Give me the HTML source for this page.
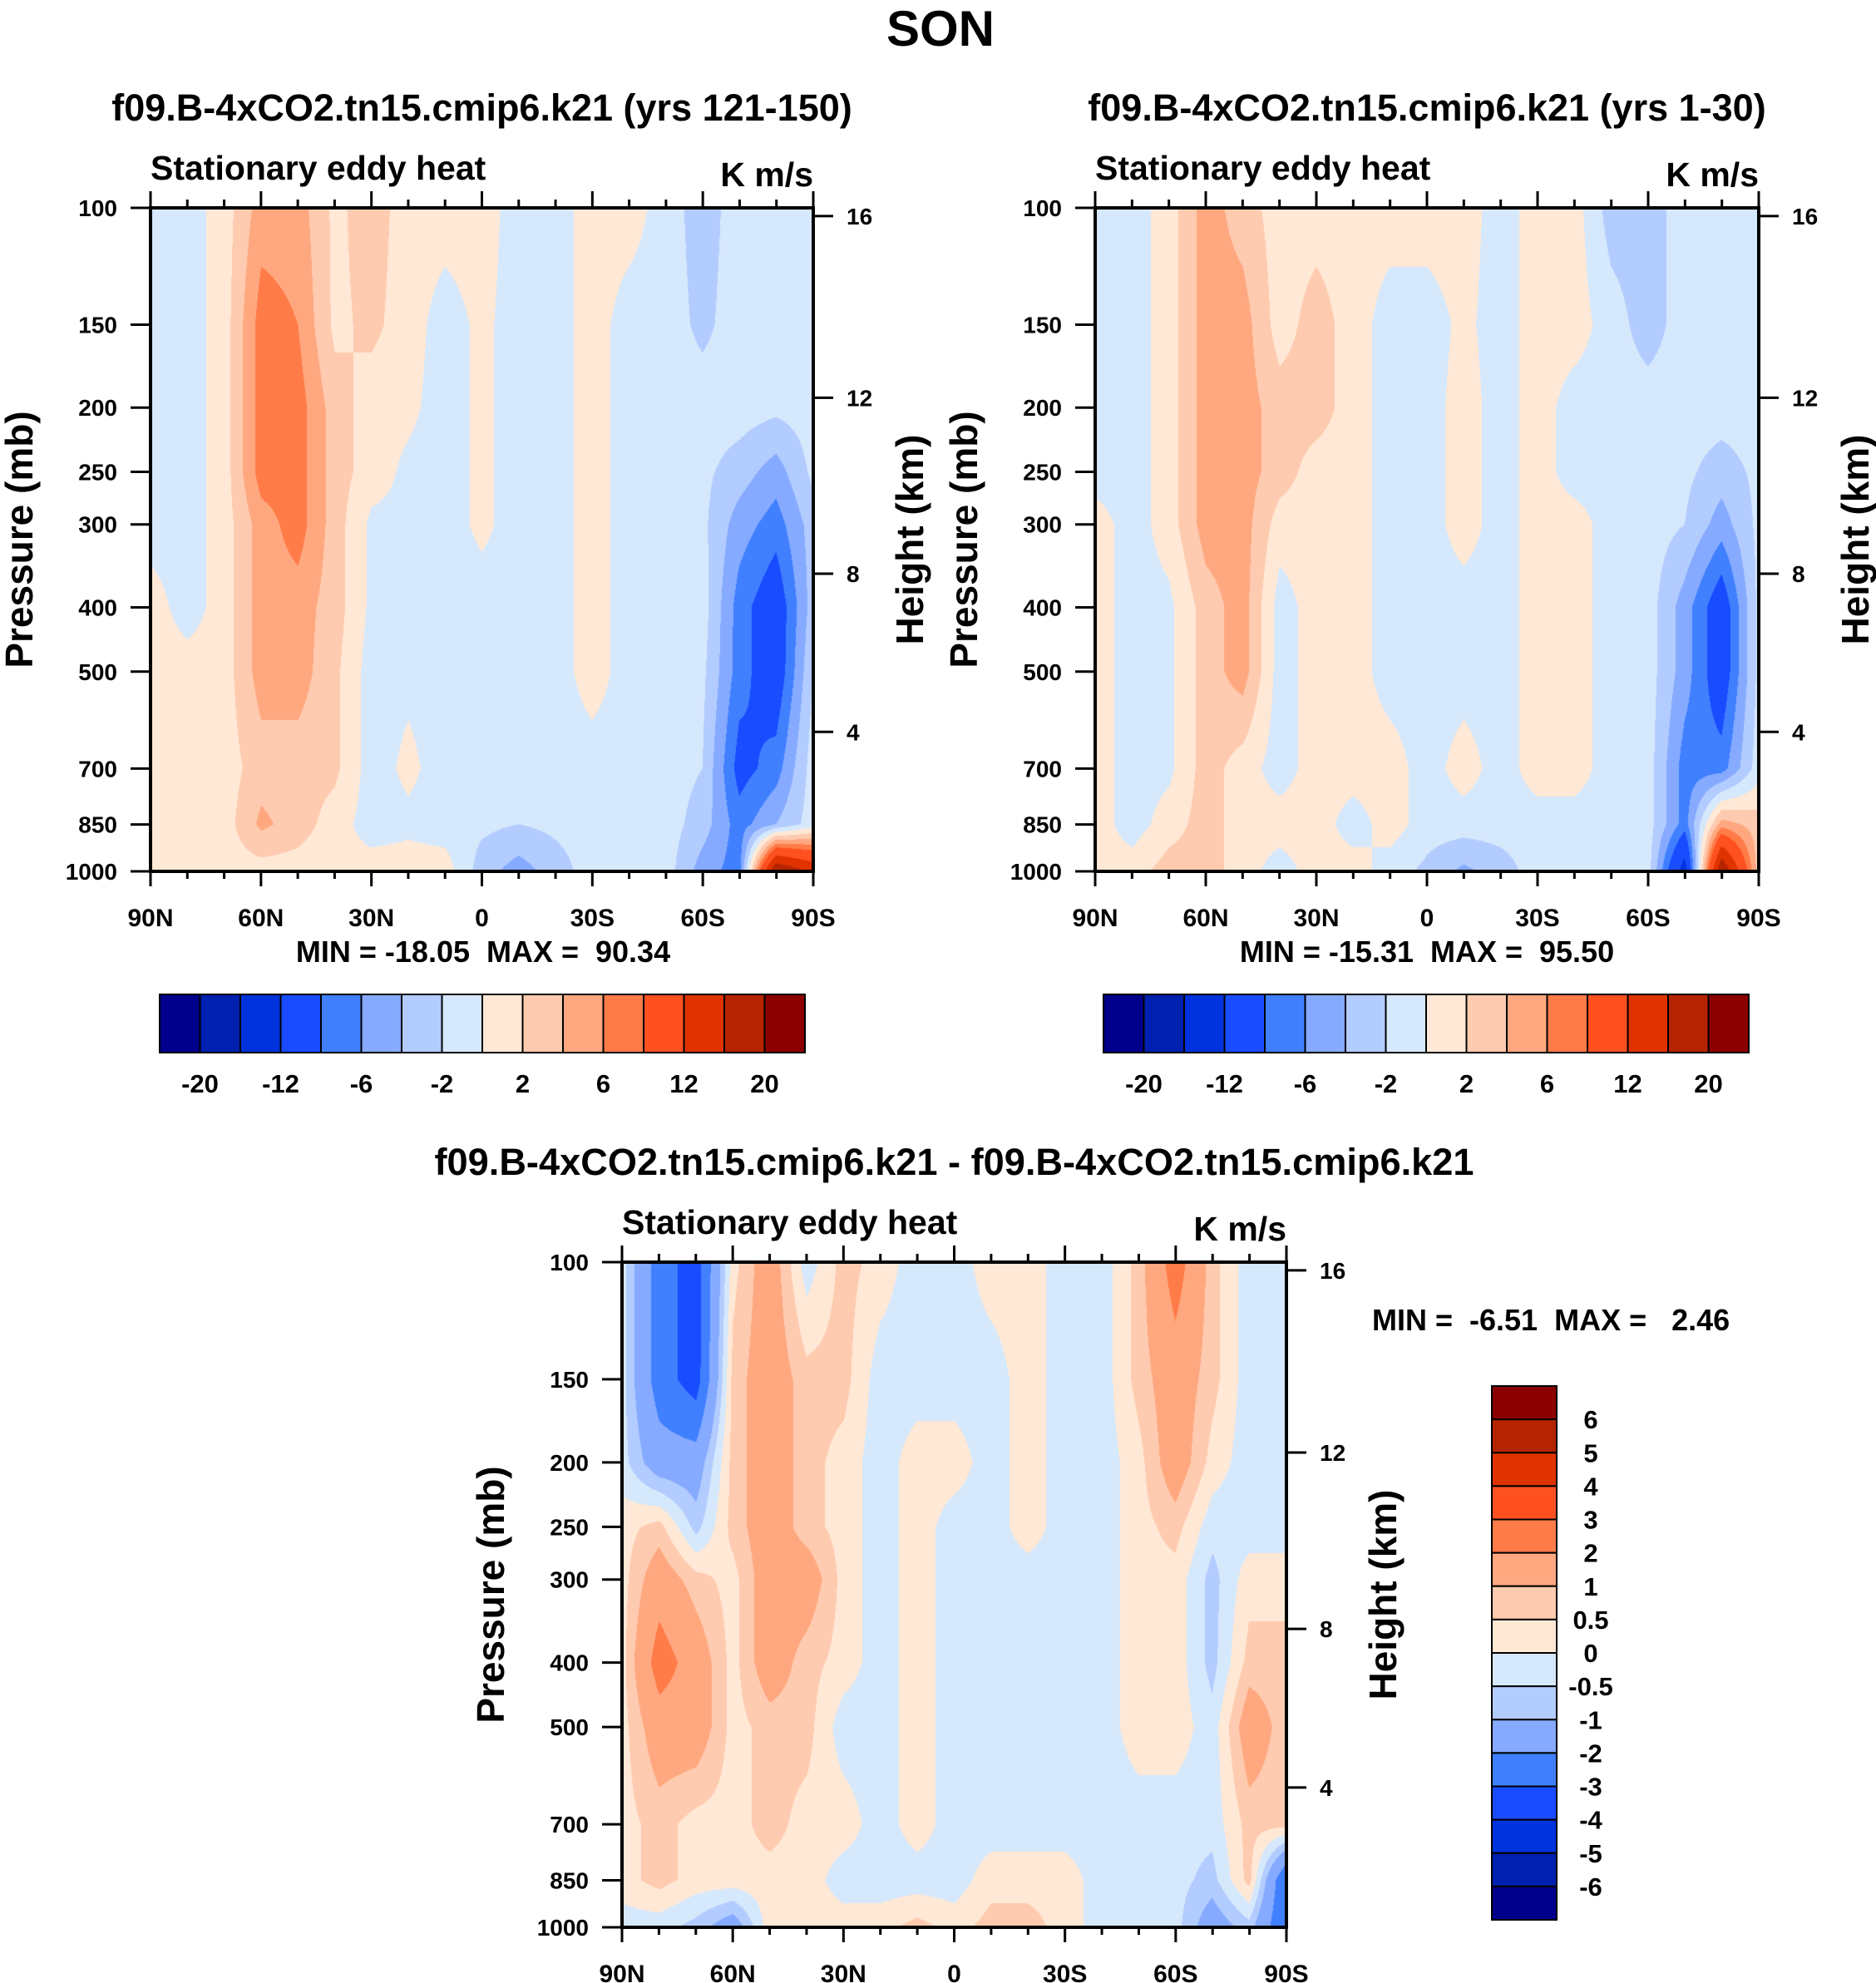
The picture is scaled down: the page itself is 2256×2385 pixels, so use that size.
<!DOCTYPE html>
<html><head><meta charset="utf-8"><title>SON Stationary eddy heat</title>
<style>
html,body{margin:0;padding:0;background:#fff;}
#root{position:relative;width:2256px;height:2385px;overflow:hidden;background:#fff;}
canvas{position:absolute;}
svg{position:absolute;left:0;top:0;}
text{font-family:"Liberation Sans",sans-serif;font-weight:bold;fill:#000;white-space:pre;}
</style></head>
<body>
<div id="root">
<canvas id="c1"></canvas>
<canvas id="c2"></canvas>
<canvas id="c3"></canvas>
<svg id="ov" width="2256" height="2385"></svg>
</div>
<script>
// ---- data ----
const latLabels = ["90N","60N","30N","0","30S","60S","90S"];
const latCols = [90,80,70,60,50,40,30,20,10,0,-10,-20,-30,-40,-50,-60,-70,-80,-90];
const pLevels = [100,150,200,250,300,400,500,700,850,1000];
const pTickLabels = [100,150,200,250,300,400,500,700,850,1000];
const zTickLabels = [4,8,12,16];
const mainLevels = [-20,-16,-12,-8,-6,-4,-2,0,2,4,6,8,12,16,20];
const mainLabelVals = ["-20","-12","-6","-2","2","6","12","20"];
const diffLevels = [-6,-5,-4,-3,-2,-1,-0.5,0,0.5,1,2,3,4,5,6];
const diffLabelVals = ["-6","-5","-4","-3","-2","-1","-0.5","0","0.5","1","2","3","4","5","6"];
const palette = ["#00008a","#0020b0","#0033dd","#1a4cff","#4080ff","#85aaff","#b3ccff","#d6e8fc",
                 "#ffe9d6","#ffcbb0","#ffa880","#ff7b48","#ff5020","#e03300","#b52400","#8a0000"];
// rows = pressure levels (100..1000), cols = 90N..90S
const panel1Values = [
 [-1,-1, 1, 5, 5, 1.5, 3, 1, 1, 1,-1,-1, 1, 1,-1,-3,-1,-1,-1],
 [-1,-1, 1, 7, 6, 1.5, 2.5, 1,-1, 0.5,-1,-1, 1,-1,-1,-2.5,-1,-1,-1],
 [-1,-1, 1, 7, 7, 3, 1, 0.5,-1, 0.5,-1,-1, 1,-1,-1,-1,-1,-1.5,-1],
 [-1,-1, 1, 7, 7, 3, 1,-0.5,-1, 0.5,-1,-1, 1,-1,-1,-1.5,-3,-5,-1.5],
 [-1,-1, 1, 5, 7, 3,-0.5,-0.5,-1, 0.5,-1,-1, 1,-1,-1,-1.5,-5,-7,-3],
 [ 1,-1, 1, 5, 5, 3,-0.5,-0.5,-1,-1,-1,-1, 1,-1,-1,-1,-7,-10,-3],
 [ 1, 1, 1, 5, 5, 2.5,-1,-0.5,-1,-1,-1,-1, 1,-1,-1,-1.5,-7,-10,-2],
 [ 1, 1, 1, 3, 3, 2.5,-1, 0.5,-1,-1,-1,-1,-1,-1,-1,-2,-9,-7,-1],
 [ 1, 1, 1, 4.5, 3, 1,-1,-0.5,-1,-1.5,-2,-1.5,-1,-1,-1,-3,-7,-4,-1],
 [ 1, 1, 1, 1, 1, 0.5, 1, 1, 1,-3,-5,-3,-1,-1,-1,-5,-7,20,15]
];
const panel2Values = [
 [-1,-1, 1, 5, 3, 1, 1, 1, 1, 1, 1,-1, 1, 1,-3,-3,-1,-1,-1],
 [-1,-1, 1, 5, 5, 1, 3, 1,-1,-1, 0.5,-1, 1, 1,-1,-3,-1,-1,-1],
 [-1,-1, 1, 5, 5, 3, 3, 1,-1,-1, 1,-1, 1,-1,-1,-1,-1,-1,-1],
 [-1,-1, 1, 5, 5, 3, 1, 1,-1,-1, 1,-1, 1,-1,-1,-1,-1.5,-3,-1.5],
 [ 1,-1, 1, 5, 5, 1, 1, 1,-1,-1, 1,-1, 1, 1,-1,-1,-2,-5,-1.5],
 [ 1,-1,-0.5, 3, 5,-1, 1, 1,-1,-1,-1,-1, 1, 1,-1,-1,-5,-10,-1.5],
 [ 1,-1,-0.5, 3, 5,-1, 1, 1,-1,-1,-1,-1, 1, 1,-1,-1,-5,-10,-1.5],
 [ 1,-1,-0.5, 3, 1,-1, 1, 1, 1,-1, 1,-1, 1, 1,-1,-1,-7,-7,-1],
 [ 1,-1, 1, 3, 1, 1, 1,-1, 1,-1,-1,-1,-1,-1,-1,-1,-7, 5, 3],
 [ 1, 1, 3, 3, 1,-1, 1, 1,-1,-2.5,-4.5,-3,-1,-1,-1,-1,-14,20, 3]
];
const panel3Values = [
 [-0.3,-2.5,-3.5, 0.3, 1.5,-0.3, 0.7, 0.3,-0.3,-0.3, 0.3, 0.3,-0.3,-0.3, 0.7, 2.5, 0.7,-0.3,-0.3],
 [-0.3,-2.5,-3.5, 0.7, 1.5, 0.7, 0.7,-0.3,-0.3,-0.3,-0.3, 0.3,-0.3,-0.3, 0.7, 1.5, 0.7,-0.3,-0.3],
 [-0.3,-1.5,-1.5, 0.7, 1.5, 0.7, 0.3,-0.3, 0.3, 0.3,-0.3, 0.3,-0.3,-0.3, 0.3, 1.5, 0.3,-0.3,-0.3],
 [ 0.3, 0.7,-0.7, 0.7, 1.5, 0.7, 0.3,-0.3, 0.3,-0.3,-0.3, 0.3,-0.3,-0.3, 0.3, 0.7,-0.3,-0.3,-0.3],
 [ 0.3, 1.5, 0.7, 0.3, 1.5, 1.5, 0.3,-0.3, 0.3,-0.3,-0.3,-0.3,-0.3,-0.3, 0.3, 0.3,-0.7, 0.3, 0.3],
 [ 0.3, 2.5, 1.5, 0.3, 1.5, 0.7, 0.3,-0.3, 0.3,-0.3,-0.3,-0.3,-0.3,-0.3, 0.3, 0.3,-0.7, 0.7, 0.7],
 [ 0.3, 1.5, 1.5, 0.3, 0.7, 0.7,-0.3,-0.3, 0.3,-0.3,-0.3,-0.3,-0.3,-0.3, 0.3, 0.3,-0.3, 1.5, 0.7],
 [ 0.3, 0.7, 0.3, 0.3, 0.7, 0.3, 0.3,-0.3, 0.3,-0.3,-0.3,-0.3,-0.3,-0.3,-0.3,-0.3,-0.3, 0.7, 0.7],
 [ 0.3, 0.7, 0.3, 0.3, 0.3, 0.3,-0.3,-0.3,-0.3,-0.3, 0.3, 0.3, 0.3,-0.3,-0.3,-0.3,-0.7, 0.7,-3],
 [-0.3,-0.3,-0.7,-1.5, 0.3, 0.3, 0.3, 0.3, 0.7, 0.3, 0.7, 0.7, 0.3,-0.3,-0.3,-0.3,-1.5,-0.7,-3]
];

const NS="http://www.w3.org/2000/svg";
const ov=document.getElementById('ov');
function el(tag,attrs,parent){const e=document.createElementNS(NS,tag);for(const k in attrs)e.setAttribute(k,attrs[k]);(parent||ov).appendChild(e);return e;}
function txt(s,x,y,size,anchor,name,extra){const t=el('text',Object.assign({x:x,y:y,'font-size':size,'text-anchor':anchor||'start'},extra||{}));t.textContent=s;


return t;}

function bandIndex(v,lv){let i=0;while(i<lv.length&&v>=lv[i])i++;return i;}
function hex(c){return [parseInt(c.slice(1,3),16),parseInt(c.slice(3,5),16),parseInt(c.slice(5,7),16)];}
const palRGB=palette.map(hex);

function drawField(id,P,vals,lv){
  const cv=document.getElementById(id);
  const W=P.x1-P.x0,H=P.y1-P.y0;
  cv.width=W;cv.height=H;cv.style.left=P.x0+'px';cv.style.top=P.y0+'px';
  const ctx=cv.getContext('2d');const img=ctx.createImageData(W,H);
  const logs=pLevels.map(p=>Math.log10(p));
  const nc=latCols.length;
  for(let py=0;py<H;py++){
    const lp=2+py/(H-1);
    let r=0;while(r<logs.length-2&&lp>logs[r+1])r++;
    const fy=Math.min(1,Math.max(0,(lp-logs[r])/(logs[r+1]-logs[r])));
    for(let px=0;px<W;px++){
      const lat=90-180*px/(W-1);
      const cx=(90-lat)/180*(nc-1);
      let c=Math.min(nc-2,Math.floor(cx));const fx=cx-c;
      const v=(1-fy)*((1-fx)*vals[r][c]+fx*vals[r][c+1])+fy*((1-fx)*vals[r+1][c]+fx*vals[r+1][c+1]);
      const col=palRGB[bandIndex(v,lv)];
      const k=(py*W+px)*4;img.data[k]=col[0];img.data[k+1]=col[1];img.data[k+2]=col[2];img.data[k+3]=255;
    }
  }
  ctx.putImageData(img,0,0);
}
function zToP(z){
  const m=z*1000;
  if(m<=11000) return 1013.25*Math.pow(1-2.25577e-5*m,5.25588);
  return 226.32*Math.exp(-(m-11000)/6341.6);
}
function drawAxes(P,title,narrow){
  const g=el('g',{});
  
  
  const W=P.x1-P.x0,H=P.y1-P.y0;
  const xs=lat=>P.x0+(90-lat)/180*W;
  const ys=p=>P.y0+(Math.log10(p)-2)*H;
  const sty={stroke:'#000','stroke-width':4,fill:'none'};
  el('rect',Object.assign({x:P.x0,y:P.y0,width:W,height:H},sty),g);
  for(let lat=90;lat>=-90;lat-=10){
    const major=lat%30===0;const x=xs(lat);
    el('line',{x1:x,x2:x,y1:P.y1,y2:P.y1+(major?18:9),stroke:'#000','stroke-width':3},g);
    el('line',{x1:x,x2:x,y1:P.y0,y2:P.y0-(major?20:10),stroke:'#000','stroke-width':3},g);
  }
  latLabels.forEach((s,i)=>{txt(s,xs(90-30*i),P.y1+66,30,'middle','x-tick-label');});
  pTickLabels.forEach(p=>{const y=ys(p);
    el('line',{x1:P.x0-24,x2:P.x0,y1:y,y2:y,stroke:'#000','stroke-width':3},g);
    txt(String(p),P.x0-40,y+10,28,'end','y-tick-label');});
  zTickLabels.forEach(z=>{const y=ys(zToP(z));
    el('line',{x1:P.x1,x2:P.x1+24,y1:y,y2:y,stroke:'#000','stroke-width':3},g);
    txt(String(z),P.x1+40,y+10,28,'start','height-tick-label');});
  const cy=(P.y0+P.y1)/2;
  txt(title,(P.x0+P.x1)/2,P.y0-105,45,'middle','panel-title',narrow?{textLength:1250,lengthAdjust:'spacingAndGlyphs'}:{});
  txt('Stationary eddy heat',P.x0,P.y0-34,41,'start','left-string');
  txt('K m/s',P.x1,P.y0-26,41,'end','units-string');
  txt('Pressure (mb)',0,0,46,'middle','y-axis-title',{transform:`translate(${P.x0-142},${cy}) rotate(-90)`});
  txt('Height (km)',0,0,46,'middle','right-axis-title',{transform:`translate(${P.x1+132},${cy}) rotate(-90)`});
}
function hColorbar(x0,x1,y0,y1,labels,name){
  const g=el('g',{});
  
  
  const n=palette.length,w=(x1-x0)/n;
  palette.forEach((c,i)=>{el('rect',{x:x0+i*w,y:y0,width:w,height:y1-y0,fill:c,stroke:'#000','stroke-width':2},g);});
  labels.forEach((s,i)=>{txt(s,x0+(2*i+1)*w,y1+48,31,'middle','colorbar-label');});
}
function vColorbar(x0,x1,y0,y1,labels,name){
  const g=el('g',{});
  
  
  const n=palette.length,h=(y1-y0)/n;
  palette.slice().reverse().forEach((c,i)=>{el('rect',{x:x0,y:y0+i*h,width:x1-x0,height:h,fill:c,stroke:'#000','stroke-width':2},g);});
  labels.slice().reverse().forEach((s,i)=>{txt(s,1913,y0+(i+1)*h+11,31,'middle','colorbar-label');});
}

const P1={x0:181,x1:978,y0:250,y1:1048};
const P2={x0:1317,x1:2115,y0:250,y1:1048};
const P3={x0:748,x1:1547,y0:1518,y1:2318};
drawField('c1',P1,panel1Values,mainLevels);
drawField('c2',P2,panel2Values,mainLevels);
drawField('c3',P3,panel3Values,diffLevels);

txt('SON',1131,55,60,'middle','figure-title');
drawAxes(P1,'f09.B-4xCO2.tn15.cmip6.k21 (yrs 121-150)');
drawAxes(P2,'f09.B-4xCO2.tn15.cmip6.k21 (yrs 1-30)');
drawAxes(P3,'f09.B-4xCO2.tn15.cmip6.k21 - f09.B-4xCO2.tn15.cmip6.k21',true);
txt('MIN = -18.05  MAX =  90.34',581,1157,36,'middle','min-max-label');
txt('MIN = -15.31  MAX =  95.50',1716,1157,36,'middle','min-max-label');
txt('MIN =  -6.51  MAX =   2.46',1650,1600,36,'start','min-max-label');
hColorbar(192,968,1196,1266,mainLabelVals,'colorbar-panel1');
hColorbar(1327,2103,1196,1266,mainLabelVals,'colorbar-panel2');
vColorbar(1794,1872,1667,2309,diffLabelVals,'colorbar-difference');
</script>
</body></html>
